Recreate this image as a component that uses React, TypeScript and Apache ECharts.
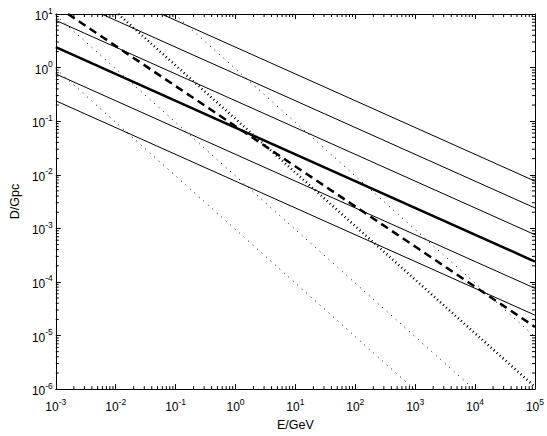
import React, { useEffect, useRef } from "react";
import * as echarts from "echarts";

// Axis ranges (decade exponents)
const xExponents = [-3, -2, -1, 0, 1, 2, 3, 4, 5];
const yExponents = [-6, -5, -4, -3, -2, -1, 0, 1];
const xName = "E/GeV";
const yName = "D/Gpc";

// Solid lines (slope -1/2), [E, D] where each line meets the frame
const solid1 = [[0.058, 10], [1e5, 7.6e-3]];
const solid2 = [[5.8e-3, 10], [1e5, 2.4e-3]];
const solid3 = [[1e-3, 7.6], [1e5, 7.6e-4]];
const solidThick = [[1e-3, 2.4], [1e5, 2.4e-4]];
const solid5 = [[1e-3, 0.76], [1e5, 7.6e-5]];
const solid6 = [[1e-3, 0.24], [1e5, 2.4e-5]];
// Thick dashed line
const dashedThick = [[1.6e-3, 10], [1e5, 1.45e-5]];
// Thick dotted line
const dottedThick = [[0.011, 10], [1e5, 1.1e-6]];
// Thin dotted lines
const dotted1 = [[0.095, 10], [1e5, 9.5e-6]];
const dotted2 = [[1e-3, 9.5], [9.5e3, 1e-6]];
const dotted3 = [[1e-3, 0.95], [955, 1e-6]];

const minorMult = [2, 3, 4, 5, 6, 7, 8, 9];

const FONT = "Liberation Sans, Arial, Helvetica, sans-serif";

export default function App() {
  const ref = useRef<HTMLDivElement>(null);
  useEffect(() => {
    if (!ref.current) return;
    const chart = echarts.init(ref.current, undefined, { renderer: "svg" });
    const XMIN = Math.pow(10, xExponents[0]);
    const XMAX = Math.pow(10, xExponents[xExponents.length - 1]);
    const YMIN = Math.pow(10, yExponents[0]);
    const YMAX = Math.pow(10, yExponents[yExponents.length - 1]);

    const fmt = (v: number) => {
      const e = Math.round(Math.log10(v));
      return `{b|10}{s|${e}}`;
    };
    const rich = {
      b: { fontSize: 12, fontFamily: FONT, color: "#000", padding: [4, 0, 0, 0], verticalAlign: "bottom" },
      s: { fontSize: 8.5, fontFamily: FONT, color: "#000", verticalAlign: "top" },
    };

    const xMinor: number[] = [];
    xExponents.slice(0, -1).forEach((e) => minorMult.forEach((m) => xMinor.push(m * Math.pow(10, e))));
    const yMinor: number[] = [];
    yExponents.slice(0, -1).forEach((e) => minorMult.forEach((m) => yMinor.push(m * Math.pow(10, e))));

    const axisCommonX = {
      type: "log",
      logBase: 10,
      min: XMIN,
      max: XMAX,
      splitNumber: 8,
      splitLine: { show: false },
      axisLine: { show: true, onZero: false, lineStyle: { color: "#000", width: 1 } },
      axisTick: { show: true, inside: true, length: 5, lineStyle: { color: "#000", width: 1 } },
    };
    const axisCommonY = {
      type: "log",
      logBase: 10,
      min: YMIN,
      max: YMAX,
      splitNumber: 7,
      splitLine: { show: false },
      axisLine: { show: true, onZero: false, lineStyle: { color: "#000", width: 1 } },
      axisTick: { show: true, inside: true, length: 5, lineStyle: { color: "#000", width: 1 } },
    };

    const line = (data: number[][], width: number, type: any) => ({
      type: "line",
      data,
      xAxisIndex: 0,
      yAxisIndex: 0,
      showSymbol: false,
      symbol: "none",
      silent: true,
      lineStyle: { color: "#000", width, type, cap: "butt" },
    });

    const L = 3;
    const option = {
      animation: false,
      backgroundColor: "#fff",
      grid: { left: 44, right: 12, top: 14, bottom: 36, containLabel: false },
      xAxis: [
        {
          ...axisCommonX,
          position: "bottom",
          name: xName,
          nameLocation: "middle",
          nameGap: 20,
          nameTextStyle: { fontSize: 12.5, fontFamily: FONT, color: "#000" },
          axisLabel: { show: true, formatter: fmt, rich, margin: 8, color: "#000" },
        },
        { ...axisCommonX, position: "top", axisLabel: { show: false } },
      ],
      yAxis: [
        {
          ...axisCommonY,
          position: "left",
          name: yName,
          nameLocation: "middle",
          nameGap: 33,
          nameTextStyle: { fontSize: 12.5, fontFamily: FONT, color: "#000" },
          axisLabel: { show: true, formatter: fmt, rich, margin: 3, color: "#000" },
        },
        { ...axisCommonY, position: "right", axisLabel: { show: false } },
      ],
      series: [
        line(solid1, 1, "solid"),
        line(solid2, 1, "solid"),
        line(solid3, 1, "solid"),
        line(solidThick, 2.5, "solid"),
        line(solid5, 1, "solid"),
        line(solid6, 1, "solid"),
        line(dashedThick, 2.5, [8, 5]),
        line(dottedThick, 2.5, [1, 3]),
        line(dotted1, 1, [1, 5]),
        line(dotted2, 1, [1, 5]),
        line(dotted3, 1, [1, 5]),
        {
          type: "custom",
          xAxisIndex: 0,
          yAxisIndex: 0,
          silent: true,
          clip: false,
          encode: { x: 0, y: 1 },
          data: [
            ...xMinor.map((v) => [v, YMIN, 0]),
            ...yMinor.map((v) => [XMIN, v, 1]),
          ],
          renderItem: (params: any, api: any) => {
            const kind = api.value(2);
            const style = { stroke: "#000", lineWidth: 1 };
            if (kind === 0) {
              const v = api.value(0);
              const b = api.coord([v, YMIN]);
              const t = api.coord([v, YMAX]);
              return {
                type: "group",
                children: [
                  { type: "line", shape: { x1: b[0], y1: b[1], x2: b[0], y2: b[1] - L }, style },
                  { type: "line", shape: { x1: t[0], y1: t[1], x2: t[0], y2: t[1] + L }, style },
                ],
              };
            }
            const v = api.value(1);
            const l = api.coord([XMIN, v]);
            const r = api.coord([XMAX, v]);
            return {
              type: "group",
              children: [
                { type: "line", shape: { x1: l[0], y1: l[1], x2: l[0] + L, y2: l[1] }, style },
                { type: "line", shape: { x1: r[0], y1: r[1], x2: r[0] - L, y2: r[1] }, style },
              ],
            };
          },
        },
      ],
    };
    chart.setOption(option as any);
    return () => chart.dispose();
  }, []);
  return (
    <div
      ref={ref}
      style={{ position: "fixed", left: 0, top: 0, width: 547, height: 436, background: "#fff" }}
    />
  );
}
